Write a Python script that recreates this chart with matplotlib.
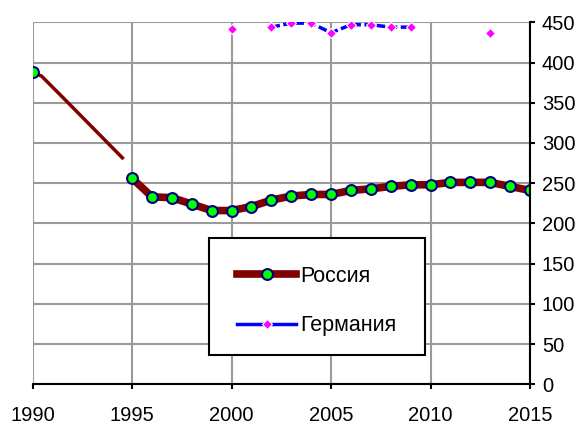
import numpy as np
import matplotlib
matplotlib.use("Agg")
import matplotlib.pyplot as plt
from matplotlib.patches import Rectangle

plt.rcParams['font.family'] = ['Liberation Sans', 'DejaVu Sans']

# Россия: 1990 и участок до 1995 (без данных между ними)
early_years = [1990, 1990.45, 1991.46, 1994.57]
early_vals = [388, 383, 358, 280]

russia_years = list(range(1995, 2016))
russia_vals = [256, 233, 232, 224, 216, 216, 221, 229, 234, 236, 236,
               241, 243, 246, 248, 248, 251, 251, 251, 246, 241]

# Германия
germany_years = [2000, 2002, 2003, 2004, 2005, 2006, 2007, 2008, 2009, 2013]
germany_vals = [442, 444, 449, 449, 437, 447, 447, 444, 444, 437]
germany_line_years = germany_years[1:9]
germany_line_vals = germany_vals[1:9]

fig = plt.figure(figsize=(5.85, 4.25), dpi=100)
ax = fig.add_axes([0.0559, 0.0958, 0.850, 0.8517])

ax.plot(early_years, early_vals, color='#800000', lw=2.5, solid_capstyle='butt')
ax.plot(early_years[:1], early_vals[:1], ls='none', marker='o', ms=7.8,
        mfc='#00ff00', mec='#000080', mew=1.5)
ax.plot(russia_years, russia_vals, color='#800000', lw=5.5,
        marker='o', ms=7.8, mfc='#00ff00', mec='#000080', mew=1.5,
        solid_joinstyle='round', label='Россия')

ax.plot(germany_line_years, germany_line_vals, color='#0000ff', lw=2.5,
        ls=(0, (2.5, 1)))
ax.plot(germany_years, germany_vals, ls='none', marker='D', ms=5.5,
        mfc='#ff00ff', mec='white', mew=0.8)
ax.plot([], [], color='#0000ff', lw=2.5, marker='D', ms=5.5,
        mfc='#ff00ff', mec='white', mew=0.8, label='Германия')

ax.set_xlim(1990, 2015)
ax.set_ylim(0, 450)
ax.set_xticks(np.arange(1990, 2016, 5))
ax.set_yticks(np.arange(0, 451, 50))
ax.grid(True, color='#9a9a9a', lw=1.5)
ax.set_axisbelow(True)

ax.yaxis.tick_right()
ax.spines['left'].set_visible(False)
ax.spines['top'].set_visible(False)
ax.spines['right'].set_linewidth(1.5)
ax.spines['bottom'].set_linewidth(1.5)
ax.tick_params(axis='both', direction='out', length=3.6, width=1.5,
               labelsize=14.5, colors='black')
ax.tick_params(axis='x', pad=12)
ax.tick_params(axis='y', pad=5)

# рамка легенды рисуется отдельно, чтобы задать её размер
ax.add_patch(Rectangle((0.354, 0.081), 0.435, 0.323, transform=ax.transAxes,
                       facecolor='white', edgecolor='black', lw=1.5, zorder=4))
leg = ax.legend(loc='center left', bbox_to_anchor=(0.411, 0.230),
                fontsize=15.5, frameon=False, handlelength=2.75,
                labelspacing=1.32, borderpad=0, handletextpad=0.2,
                borderaxespad=0)
leg.set_zorder(5)

fig.savefig('out.png', dpi=100)
